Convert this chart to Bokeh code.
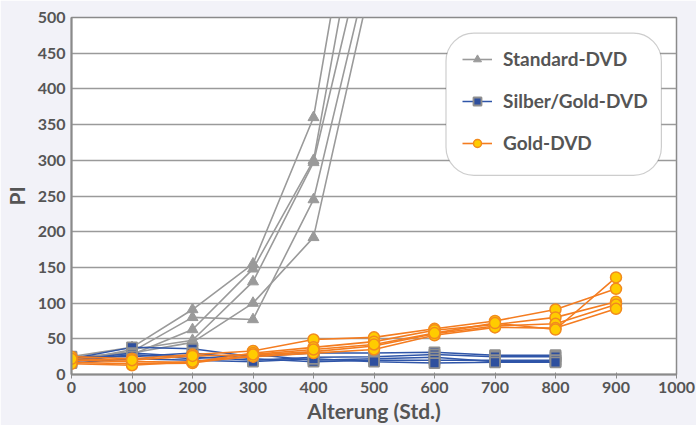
from bokeh.plotting import figure
from bokeh.models import Range1d, Legend, LegendItem, BoxAnnotation, FixedTicker
from bokeh.embed import file_html
from bokeh.resources import INLINE

# ---- data ----
hours_std = [0, 100, 200, 300, 400, 500]
standard = [
    [25, 38, 91, 155, 360, 854],
    [22, 32, 80, 77, 245, 601],
    [20, 28, 63, 148, 300, 766],
    [18, 35, 48, 130, 297, 655],
    [24, 30, 45, 100, 192, 569],
]
hours_sg = [0, 100, 200, 300, 400, 500, 600, 700, 800]
silber_gold = [
    [22, 38, 36, 25, 30, 30, 31, 27, 27],
    [20, 30, 25, 20, 24, 25, 28, 25, 25],
    [18, 28, 22, 28, 20, 22, 24, 18, 18],
    [25, 25, 30, 22, 18, 20, 20, 20, 20],
    [16, 22, 20, 18, 22, 18, 16, 17, 17],
]
hours_gold = [0, 100, 200, 300, 400, 500, 600, 700, 800, 900]
gold = [
    [25, 22, 28, 33, 49, 52, 64, 75, 91, 120],
    [20, 18, 17, 30, 38, 46, 62, 70, 80, 102],
    [17, 15, 16, 27, 32, 40, 57, 68, 71, 98],
    [15, 13, 18, 25, 30, 35, 55, 66, 65, 92],
    [22, 20, 26, 28, 35, 42, 58, 72, 63, 136],
]
x_ticks = [0, 100, 200, 300, 400, 500, 600, 700, 800, 900, 1000]
y_ticks = [0, 50, 100, 150, 200, 250, 300, 350, 400, 450, 500]
series_names = ["Standard-DVD", "Silber/Gold-DVD", "Gold-DVD"]

FONT = "Lato"
TXT = "#555555"

p = figure(width=696, height=425, output_backend="svg", toolbar_location=None,
           x_range=Range1d(0, 1000), y_range=Range1d(0, 500),
           min_border_left=71, min_border_right=20, min_border_top=17, min_border_bottom=51)
p.border_fill_color = "#f2f2f8"
p.background_fill_color = "white"
p.outline_line_color = "#8a8a8a"
p.outline_line_width = 1.5

p.xgrid.grid_line_color = None
p.ygrid.grid_line_color = "#9a9a9a"
p.ygrid.grid_line_width = 1.5

p.xaxis.ticker = FixedTicker(ticks=x_ticks)
p.yaxis.ticker = FixedTicker(ticks=y_ticks)
for ax in (p.xaxis, p.yaxis):
    ax.axis_line_color = "#8a8a8a"
    ax.axis_line_width = 2
    ax.major_tick_line_color = "#8a8a8a"
    ax.minor_tick_line_color = None
    ax.major_label_text_font = FONT
    ax.major_label_text_font_style = "bold"
    ax.major_label_text_font_size = "16px"
    ax.major_label_text_color = TXT
    ax.axis_label_text_font = FONT
    ax.axis_label_text_font_style = "bold"
    ax.axis_label_text_font_size = "21px"
    ax.axis_label_text_color = TXT
p.xaxis.major_tick_out = 4
p.xaxis.major_tick_in = 2
p.yaxis.major_tick_out = 0
p.yaxis.major_tick_in = 0
p.xaxis.major_label_standoff = 3
p.yaxis.major_label_standoff = 6
p.xaxis.axis_label = "Alterung (Std.)"
p.yaxis.axis_label = "PI"
p.xaxis.axis_label_standoff = 2
p.yaxis.axis_label_standoff = 6

GRAY = "#9a9a9a"
BLUE = "#2f55a8"
ORANGE = "#f47c20"

first = {}
for i, ys in enumerate(standard):
    l = p.line(hours_std, ys, line_color=GRAY, line_width=1.6)
    s = p.scatter(hours_std, ys, marker="triangle", size=11, fill_color=GRAY, line_color=GRAY)
    if i == 0:
        first[0] = [l, s]
for i, ys in enumerate(silber_gold):
    l = p.line(hours_sg, ys, line_color=BLUE, line_width=1.5)
    s = p.scatter(hours_sg, ys, marker="square", size=10, fill_color="#2e4f9e",
                  line_color="#8f8f8f", line_width=1.8)
    if i == 0:
        first[1] = [l, s]
for i, ys in enumerate(gold):
    l = p.line(hours_gold, ys, line_color=ORANGE, line_width=1.6)
    s = p.scatter(hours_gold, ys, marker="circle", size=11, fill_color="#ffcc00",
                  line_color="#f28a1e", line_width=1.5)
    if i == 0:
        first[2] = [l, s]

box = BoxAnnotation(left=619, right=975, bottom=279, top=478,
                    fill_color="white", fill_alpha=1.0,
                    line_color="#5a5a5a", line_width=1.2, border_radius=28)
p.add_layout(box)

legend = Legend(items=[LegendItem(label=series_names[k], renderers=first[k]) for k in range(3)],
                location=(391, 220), padding=0, margin=0, spacing=19,
                glyph_width=30, glyph_height=20, label_height=20, label_standoff=11,
                border_line_alpha=0, background_fill_alpha=0,
                label_text_font=FONT, label_text_font_style="bold",
                label_text_font_size="19px", label_text_color=TXT)
p.add_layout(legend)

open("out.html", "w").write(file_html(p, INLINE))
